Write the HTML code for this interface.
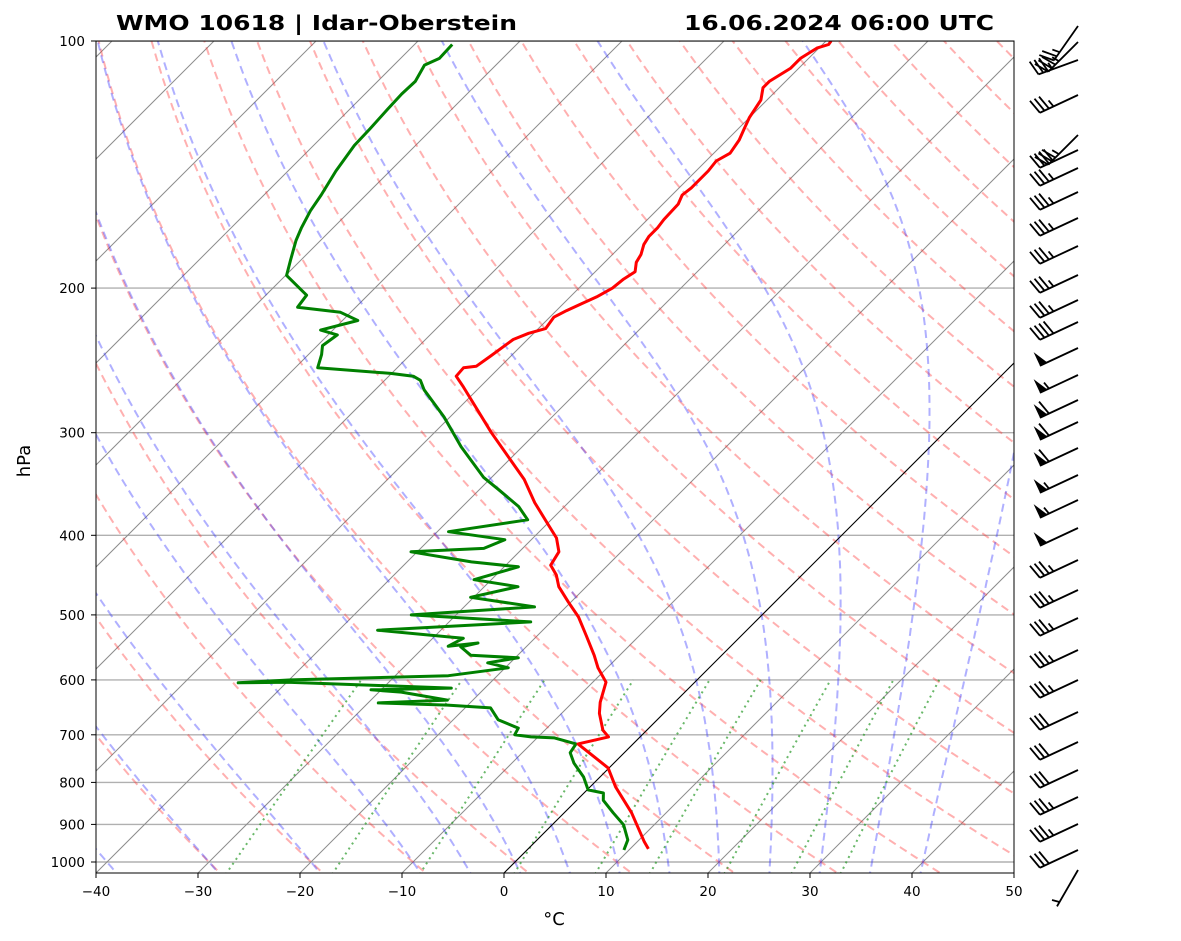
<!DOCTYPE html>
<html><head><meta charset="utf-8"><style>
body{margin:0;background:#fff;}
svg{display:block;font-family:"DejaVu Sans","Liberation Sans",sans-serif;}
</style></head><body>
<svg id="chart" width="1181" height="941" viewBox="0 0 1181 941" xmlns="http://www.w3.org/2000/svg">
<defs><clipPath id="clip"><rect x="96" y="41" width="918" height="832"/></clipPath></defs>
<rect width="1181" height="941" fill="#fff"/>
<text x="116" y="30" font-size="20" font-weight="bold" textLength="401" lengthAdjust="spacingAndGlyphs">WMO 10618 | Idar-Oberstein</text>
<text x="684" y="30" font-size="20" font-weight="bold" textLength="310" lengthAdjust="spacingAndGlyphs">16.06.2024 06:00 UTC</text>
<g id="bg" clip-path="url(#clip)"></g>
<g id="prof" clip-path="url(#clip)"></g>
<rect x="96" y="41" width="918" height="832" fill="none" stroke="#000" stroke-width="1"/>
<g id="axes"></g>
<g id="barbs"></g>
<text x="554" y="925" font-size="18" text-anchor="middle">°C</text>
<text x="0" y="0" font-size="18" text-anchor="middle" transform="translate(30,461) rotate(-90)">hPa</text>
</svg>
<script>
const tempP=[964,945,871,810,768,718,704,691,659,639,604,580,560,529,503,482,462,447,435,419,403,387,365,342,300,264,256,250,249,242,231,227,224,217,213,209,205,200,195,191,186,182,177,173,169,165,158,154,151,144,140,137,132,128,124,118,114,112,108,105,102,101,100];
const tempT=[11.8,10.7,6.6,2.5,-0.1,-5.4,-3.1,-4.3,-6.3,-7.3,-8.7,-10.9,-12.5,-15.3,-17.8,-20.3,-22.7,-24.1,-25.6,-26.1,-27.7,-30.0,-33.3,-36.6,-44.4,-51.6,-53.4,-53.5,-52.4,-52.0,-51.4,-50.5,-49.3,-49.6,-49.0,-48.2,-47.4,-46.7,-46.5,-46.1,-46.9,-47.2,-47.9,-48.2,-48.2,-48.4,-48.5,-49.0,-48.8,-48.8,-49.0,-48.4,-48.8,-49.4,-50.0,-50.6,-51.6,-51.6,-50.8,-50.8,-50.2,-49.4,-49.5];
const dewP=[967,940,901,871,841,824,817,788,758,736,718,706,704,700,687,671,649,644,640,635,621,617,614,604,605,600,593,580,572,564,560,547,541,546,534,522,510,500,489,476,462,453,437,431,419,415,405,396,383,369,352,340,312,287,266,259,256,254,250,241,235,228,225,219,214,211,204,193,185,175,169,161,154,144,134,128,121,116,112,107,105,101];
const dewT=[9.5,8.9,7.0,4.8,2.6,1.9,0.1,-1.6,-3.9,-5.3,-5.6,-8.3,-10.7,-12.5,-12.8,-15.6,-17.5,-22.0,-29.0,-22.5,-27.8,-31.0,-23.3,-39.9,-44.7,-39.8,-24.8,-19.7,-22.2,-19.7,-24.6,-26.4,-25.1,-27.7,-27.0,-36.2,-22.0,-34.4,-23.1,-30.3,-26.7,-31.7,-28.6,-33.7,-40.6,-33.8,-32.6,-38.9,-32.3,-34.5,-38.1,-40.8,-46.0,-50.6,-55.2,-56.5,-57.6,-60.1,-67.8,-68.7,-69.5,-69.1,-71.2,-68.5,-71.0,-75.7,-76.0,-79.9,-81.0,-82.4,-83.1,-83.9,-84.4,-85.3,-86.0,-86.1,-86.3,-86.4,-86.3,-87.0,-86.2,-86.3];
const barbY=[26,42,60,95,135,150,168,192,218,246,275,300,322,348,375,400,422,448,475,500,528,560,590,618,650,680,712,742,770,797,824,850,870];
const barbSpd=[25,35,35,35,35,40,35,35,35,35,35,35,40,50,55,60,60,60,55,55,50,35,35,35,35,35,30,30,30,35,35,30,5];
const barbDir=[215,225,250,245,225,245,245,245,245,245,245,245,245,245,245,245,245,245,245,245,245,245,245,245,245,245,245,245,245,245,245,245,210];
const pTicks=[100,200,300,400,500,600,700,800,900,1000];
const tTicks=[-40,-30,-20,-10,0,10,20,30,40,50];
const dryT0=[-30,-20,-10,0,10,20,30,40,50,60,70,80,90,100,110,120,130,140,150,160,170,180,190];
const moistT0=[-40,-30,-20,-10,-5,0,5,10,15,20,25,30,35,40];
const mixW=[0.0004,0.001,0.002,0.004,0.007,0.01,0.016,0.024,0.032];

const NS='http://www.w3.org/2000/svg';
const Y=p=>41+821*Math.log10(p/100);
const X=(T,p)=>96+(T+40)*10.2+(873-Y(p));
function mk(tag,attrs,parent){const e=document.createElementNS(NS,tag);for(const k in attrs)e.setAttribute(k,attrs[k]);parent.appendChild(e);return e;}
function poly(pts,style,parent,name){const d=pts.map((q,i)=>(i?'L':'M')+q[0].toFixed(1)+' '+q[1].toFixed(1)).join('');const e=mk('path',Object.assign({d:d,fill:'none'},style),parent);


return e;}
const bg=document.getElementById('bg'),prof=document.getElementById('prof'),ax=document.getElementById('axes'),bb=document.getElementById('barbs');
const pLev=[];for(let p=1050;p>=95;p-=5)pLev.push(p);
pTicks.forEach(p=>{poly([[96,Y(p)],[1014,Y(p)]],{stroke:'#b0b0b0','stroke-width':1.4},bg,'pressure-gridline');});
for(let T=-130;T<=50;T+=10){poly([[X(T,1050),Y(1050)],[X(T,95),Y(95)]],{stroke:'#8c8c8c','stroke-width':1},bg,'isotherm');}
dryT0.forEach(t=>{const th=t+273.15;poly(pLev.map(p=>[X(th*Math.pow(p/1000,0.2857)-273.15,p),Y(p)]),{stroke:'#ff3030','stroke-opacity':0.38,'stroke-width':2,'stroke-dasharray':'8,5'},bg,'dry-adiabat');});
function es(Tc){return 6.112*Math.exp(17.67*Tc/(Tc+243.5));}
function dTdp(T,p){const Rd=287.04,Cp=1005.7,Lv=2.501e6,eps=0.622;const e=es(T-273.15);const rs=eps*e/(p-e);return (Rd*T+Lv*rs)/(Cp+Lv*Lv*rs*eps/(Rd*T*T))/p;}
function integ(T0,p0,p1,n){const out=[[p0,T0]];let T=T0,p=p0;const h=(p1-p0)/n;for(let i=0;i<n;i++){const k1=dTdp(T,p),k2=dTdp(T+h*k1/2,p+h/2),k3=dTdp(T+h*k2/2,p+h/2),k4=dTdp(T+h*k3,p+h);T+=h*(k1+2*k2+2*k3+k4)/6;p+=h;out.push([p,T]);}return out;}
moistT0.forEach(t=>{const up=integ(t+273.15,1000,95,180),dn=integ(t+273.15,1000,1050,10);const all=dn.reverse().concat(up.slice(1));poly(all.map(q=>[X(q[1]-273.15,q[0]),Y(q[0])]),{stroke:'#3030ff','stroke-opacity':0.38,'stroke-width':2,'stroke-dasharray':'8,5'},bg,'moist-adiabat');});
mixW.forEach(w=>{const pts=[];for(let p=1050;p>=600;p-=10){const e=p*w/(0.622+w);const l=Math.log(e/6.112);const td=243.5*l/(17.67-l);pts.push([X(td,p),Y(p)]);}poly(pts,{stroke:'#2a9a2a','stroke-opacity':0.7,'stroke-width':2,'stroke-dasharray':'2,4'},bg,'mixing-ratio-line');});
poly([[X(0,1050),Y(1050)],[X(0,95),Y(95)]],{stroke:'#000','stroke-width':1},bg,'zero-isotherm');
poly(dewP.map((p,i)=>[X(dewT[i],p),Y(p)]),{stroke:'#008000','stroke-width':3,'stroke-linejoin':'round'},prof,'dewpoint-line');
poly(tempP.map((p,i)=>[X(tempT[i],p),Y(p)]),{stroke:'#ff0000','stroke-width':3,'stroke-linejoin':'round'},prof,'temperature-line');
pTicks.forEach(p=>{const y=Y(p);poly([[91,y],[96,y]],{stroke:'#000','stroke-width':1},ax,'y-tick');
const t=mk('text',{x:85,y:y+5,'font-size':13.5,'text-anchor':'end'},ax);t.textContent=p;

});
tTicks.forEach(T=>{const x=96+(T+40)*10.2;poly([[x,873],[x,878]],{stroke:'#000','stroke-width':1},ax,'x-tick');
const t=mk('text',{x:x,y:896,'font-size':13.5,'text-anchor':'middle'},ax);t.textContent=(T<0?'\u2212'+(-T):T);

});
barbY.forEach((y0,i)=>{const g=mk('g',{},bb);


const a=barbDir[i]*Math.PI/180;const ux=Math.sin(a),uy=-Math.cos(a);const L=42;const x0=1078;
const ex=x0+ux*L,ey=y0+uy*L;mk('line',{x1:x0,y1:y0,x2:ex,y2:ey,stroke:'#000','stroke-width':1.8},g);
let px=-uy,py=ux; if(py>0){px=-px;py=-py;}
let s=barbSpd[i],pos=0;const fl=15,sp=5;
const pt=d=>[ex-ux*d,ey-uy*d];
while(s>=50){const a1=pt(pos),a2=pt(pos+sp*1.6);mk('polygon',{points:`${a1[0]},${a1[1]} ${a1[0]+px*fl},${a1[1]+py*fl} ${a2[0]},${a2[1]}`,fill:'#000'},g);pos+=sp*2;s-=50;}
while(s>=10){const a1=pt(pos);mk('line',{x1:a1[0],y1:a1[1],x2:a1[0]+px*fl+ux*4,y2:a1[1]+py*fl+uy*4,stroke:'#000','stroke-width':1.8},g);pos+=sp;s-=10;}
if(s>=5){if(pos===0)pos=sp;const a1=pt(pos);mk('line',{x1:a1[0],y1:a1[1],x2:a1[0]+px*fl/2+ux*2,y2:a1[1]+py*fl/2+uy*2,stroke:'#000','stroke-width':1.8},g);}
});
</script>
</body></html>
